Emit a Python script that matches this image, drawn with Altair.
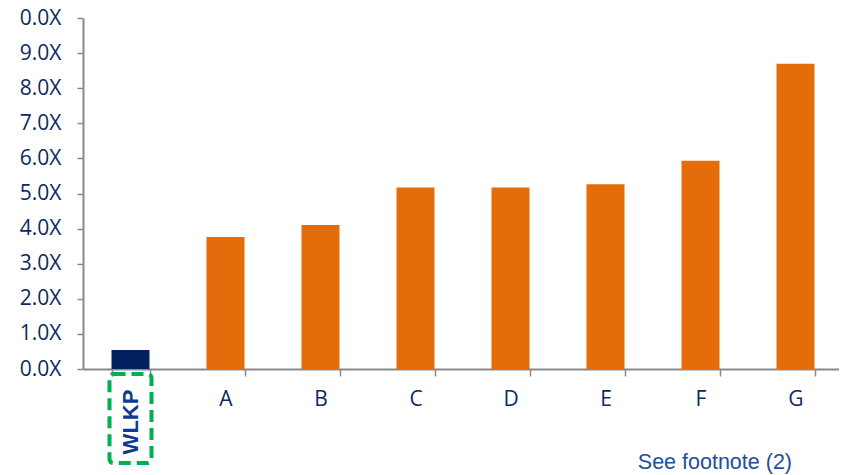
import altair as alt
import pandas as pd

categories = ["WLKP", "A", "B", "C", "D", "E", "F", "G"]
values = [0.54, 3.76, 4.10, 5.17, 5.17, 5.26, 5.93, 8.70]
groups = ["WLKP", "Peer", "Peer", "Peer", "Peer", "Peer", "Peer", "Peer"]
y_ticks = [0, 1, 2, 3, 4, 5, 6, 7, 8, 9, 10]
footnote = "See footnote (2)"
highlight = "WLKP"

df = pd.DataFrame({"cat": categories, "val": values, "grp": groups})
df_hl = pd.DataFrame({"cat": [highlight]})
df_fn = pd.DataFrame({"t": [footnote]})

NAVY = "#0d2a5e"
AXIS = "#898989"

xscale = alt.Scale(domain=categories, paddingInner=0.6, paddingOuter=0.3)
x_axis = alt.Axis(
    title=None, labelAngle=0, tickBand="extent",
    labelExpr="datum.value == 'WLKP' ? '' : datum.value",
    labelFont="Open Sans", labelFontSize=21, labelColor=NAVY,
    labelPadding=12, tickSize=7, tickColor=AXIS, domainColor=AXIS,
    domainWidth=2, tickWidth=1.5,
)
y_axis = alt.Axis(
    title=None, values=y_ticks,
    labelExpr="datum.value == 10 ? '0.0X' : format(datum.value, '.1f') + 'X'",
    labelFont="Open Sans", labelFontSize=21, labelColor=NAVY,
    labelPadding=16, tickSize=6, tickColor=AXIS, domainColor=AXIS,
    domainWidth=2, tickWidth=1.5, grid=False,
)

bars = alt.Chart(df).mark_bar().encode(
    x=alt.X("cat:N", sort=categories, scale=xscale, axis=x_axis),
    y=alt.Y("val:Q", scale=alt.Scale(domain=[0, 10], nice=False), axis=y_axis),
    color=alt.Color("grp:N", scale=alt.Scale(domain=["WLKP", "Peer"], range=["#002060", "#E46C0A"]), legend=None),
)

box = alt.Chart(df_hl).mark_bar(
    width=42, fill=None, fillOpacity=0, stroke="#00B050", strokeWidth=4,
    strokeDash=[12, 6], cornerRadius=4,
).encode(
    x=alt.X("cat:N", sort=categories, scale=xscale),
    y=alt.value(356), y2=alt.value(445),
)

hl_text = alt.Chart(df_hl).mark_text(
    angle=270, font="Liberation Sans", fontWeight="bold", fontSize=22,
    color="#0b3a8f", align="center", baseline="middle",
).encode(
    x=alt.X("cat:N", sort=categories, scale=xscale),
    y=alt.value(404), text="cat:N",
)

fn = alt.Chart(df_fn).mark_text(
    font="Liberation Sans", fontSize=21.5, color="#1f4e9c", align="right", baseline="alphabetic",
).encode(x=alt.value(709), y=alt.value(451), text="t:N")

chart = alt.layer(bars, box, hl_text, fn).properties(
    width=760, height=351,
    autosize=alt.AutoSizeParams(type="none"),
    padding={"left": 75, "top": 10, "right": -4, "bottom": 105},
).configure_view(stroke=None)

chart.save("out.html", embed_options={"renderer": "svg", "actions": False})
